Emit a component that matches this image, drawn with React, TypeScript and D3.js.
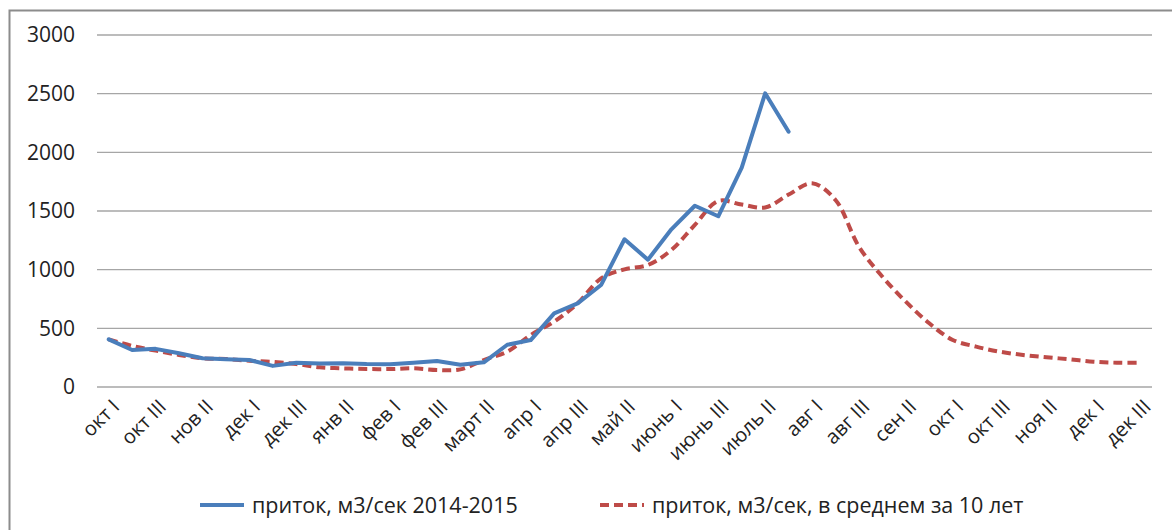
import { useEffect, useRef } from 'react';
import * as d3 from 'd3';

const decades = [
  'окт I', 'окт II', 'окт III', 'нов I', 'нов II', 'нов III', 'дек I', 'дек II', 'дек III',
  'янв I', 'янв II', 'янв III', 'фев I', 'фев II', 'фев III', 'март I', 'март II', 'март III',
  'апр I', 'апр II', 'апр III', 'май I', 'май II', 'май III', 'июнь I', 'июнь II', 'июнь III',
  'июль I', 'июль II', 'июль III', 'авг I', 'авг II', 'авг III', 'сен I', 'сен II', 'сен III',
  'окт I ', 'окт II ', 'окт III ', 'ноя I', 'ноя II', 'ноя III', 'дек I ', 'дек II ', 'дек III ',
];

// приток, м3/сек 2014-2015
const inflowCurrent = [
  406, 315, 325, 287, 245, 236, 230, 180, 207, 200, 202, 195, 193, 207, 222, 190, 210, 360,
  400, 628, 713, 869, 1259, 1085, 1344, 1545, 1455, 1870, 2503, 2176,
];

// приток, м3/сек, в среднем за 10 лет
const inflowAverage = [
  406, 350, 310, 273, 245, 239, 224, 214, 196, 168, 159, 153, 153, 159, 145, 150, 230, 301,
  443, 557, 713, 926, 1003, 1040, 1168, 1381, 1585, 1555, 1530, 1640, 1736, 1594, 1196, 940,
  727, 543, 401, 344, 301, 273, 253, 236, 216, 207, 207,
];

const yTicks = [0, 500, 1000, 1500, 2000, 2500, 3000];

const legendItems = [
  { label: 'приток, м3/сек 2014-2015', color: '#4a7ebb', dash: null },
  { label: 'приток, м3/сек, в среднем за 10 лет', color: '#be4b48', dash: '9,5' },
];

const W = 1172;
const H = 530;
const FONT = '"Open Sans", sans-serif';

const App = () => {
  const svgRef = useRef<SVGSVGElement>(null);

  useEffect(() => {
    if (!svgRef.current) return;
    const svg = d3.select(svgRef.current);
    svg.selectAll('*').remove();

    const left = 97;
    const right = 1152;
    const top = 35;
    const bottom = 387;

    // chart frame (left and top edges visible)
    svg.append('rect')
      .attr('x', 9.5).attr('y', 10.5)
      .attr('width', W + 20).attr('height', H + 20)
      .attr('fill', '#fff')
      .attr('stroke', '#8c8c8c')
      .attr('stroke-width', 2);

    const x = d3.scaleBand<string>().domain(decades).range([left, right]);
    const y = d3.scaleLinear().domain([0, 3000]).range([bottom, top]);
    const cx = (i: number) => (x(decades[i]) as number) + x.bandwidth() / 2;

    // gridlines
    svg.append('g')
      .selectAll('line')
      .data(yTicks)
      .join('line')
      .attr('x1', left).attr('x2', right)
      .attr('y1', (d) => y(d)).attr('y2', (d) => y(d))
      .attr('stroke', '#a6a6a6')
      .attr('stroke-width', 1.3);

    // y labels
    svg.append('g')
      .selectAll('text')
      .data(yTicks)
      .join('text')
      .attr('x', 75)
      .attr('y', (d) => y(d))
      .attr('dy', '0.35em')
      .attr('text-anchor', 'end')
      .attr('font-family', FONT)
      .attr('font-size', 21)
      .attr('fill', '#222')
      .text((d) => d);

    // x labels, every second decade
    svg.append('g')
      .selectAll('text')
      .data(decades.map((d, i) => ({ d, i })).filter((o) => o.i % 2 === 0))
      .join('text')
      .attr('transform', (o) => `translate(${cx(o.i) + 7},${bottom + 16}) rotate(-45)`)
      .attr('text-anchor', 'end')
      .attr('dy', '0.35em')
      .attr('font-family', FONT)
      .attr('font-size', 20)
      .attr('fill', '#222')
      .text((o) => o.d.trim());

    // average line (smoothed, dashed)
    const avgLine = d3.line<number>()
      .x((_, i) => cx(i))
      .y((d) => y(d))
      .curve(d3.curveCatmullRom.alpha(0.5));
    svg.append('path')
      .datum(inflowAverage)
      .attr('d', avgLine)
      .attr('fill', 'none')
      .attr('stroke', '#be4b48')
      .attr('stroke-width', 4)
      .attr('stroke-dasharray', '9,5');

    // current season line
    const curLine = d3.line<number>()
      .x((_, i) => cx(i))
      .y((d) => y(d));
    svg.append('path')
      .datum(inflowCurrent)
      .attr('d', curLine)
      .attr('fill', 'none')
      .attr('stroke', '#4a7ebb')
      .attr('stroke-width', 4)
      .attr('stroke-linejoin', 'round')
      .attr('stroke-linecap', 'round');

    // legend
    const legendX = [200, 600];
    const legendY = 505;
    legendItems.forEach((item, k) => {
      const g = svg.append('g').attr('transform', `translate(${legendX[k]},${legendY})`);
      g.append('line')
        .attr('x1', 0).attr('x2', 44)
        .attr('stroke', item.color)
        .attr('stroke-width', 4)
        .attr('stroke-dasharray', item.dash ?? null);
      g.append('text')
        .attr('x', 52)
        .attr('dy', '0.35em')
        .attr('font-family', FONT)
        .attr('font-size', 21.5)
        .attr('fill', '#222')
        .text(item.label);
    });
  }, []);

  return (
    <svg
      ref={svgRef}
      width={W}
      height={H}
      style={{ position: 'absolute', left: 0, top: 0, background: '#fff' }}
    />
  );
};

export default App;
